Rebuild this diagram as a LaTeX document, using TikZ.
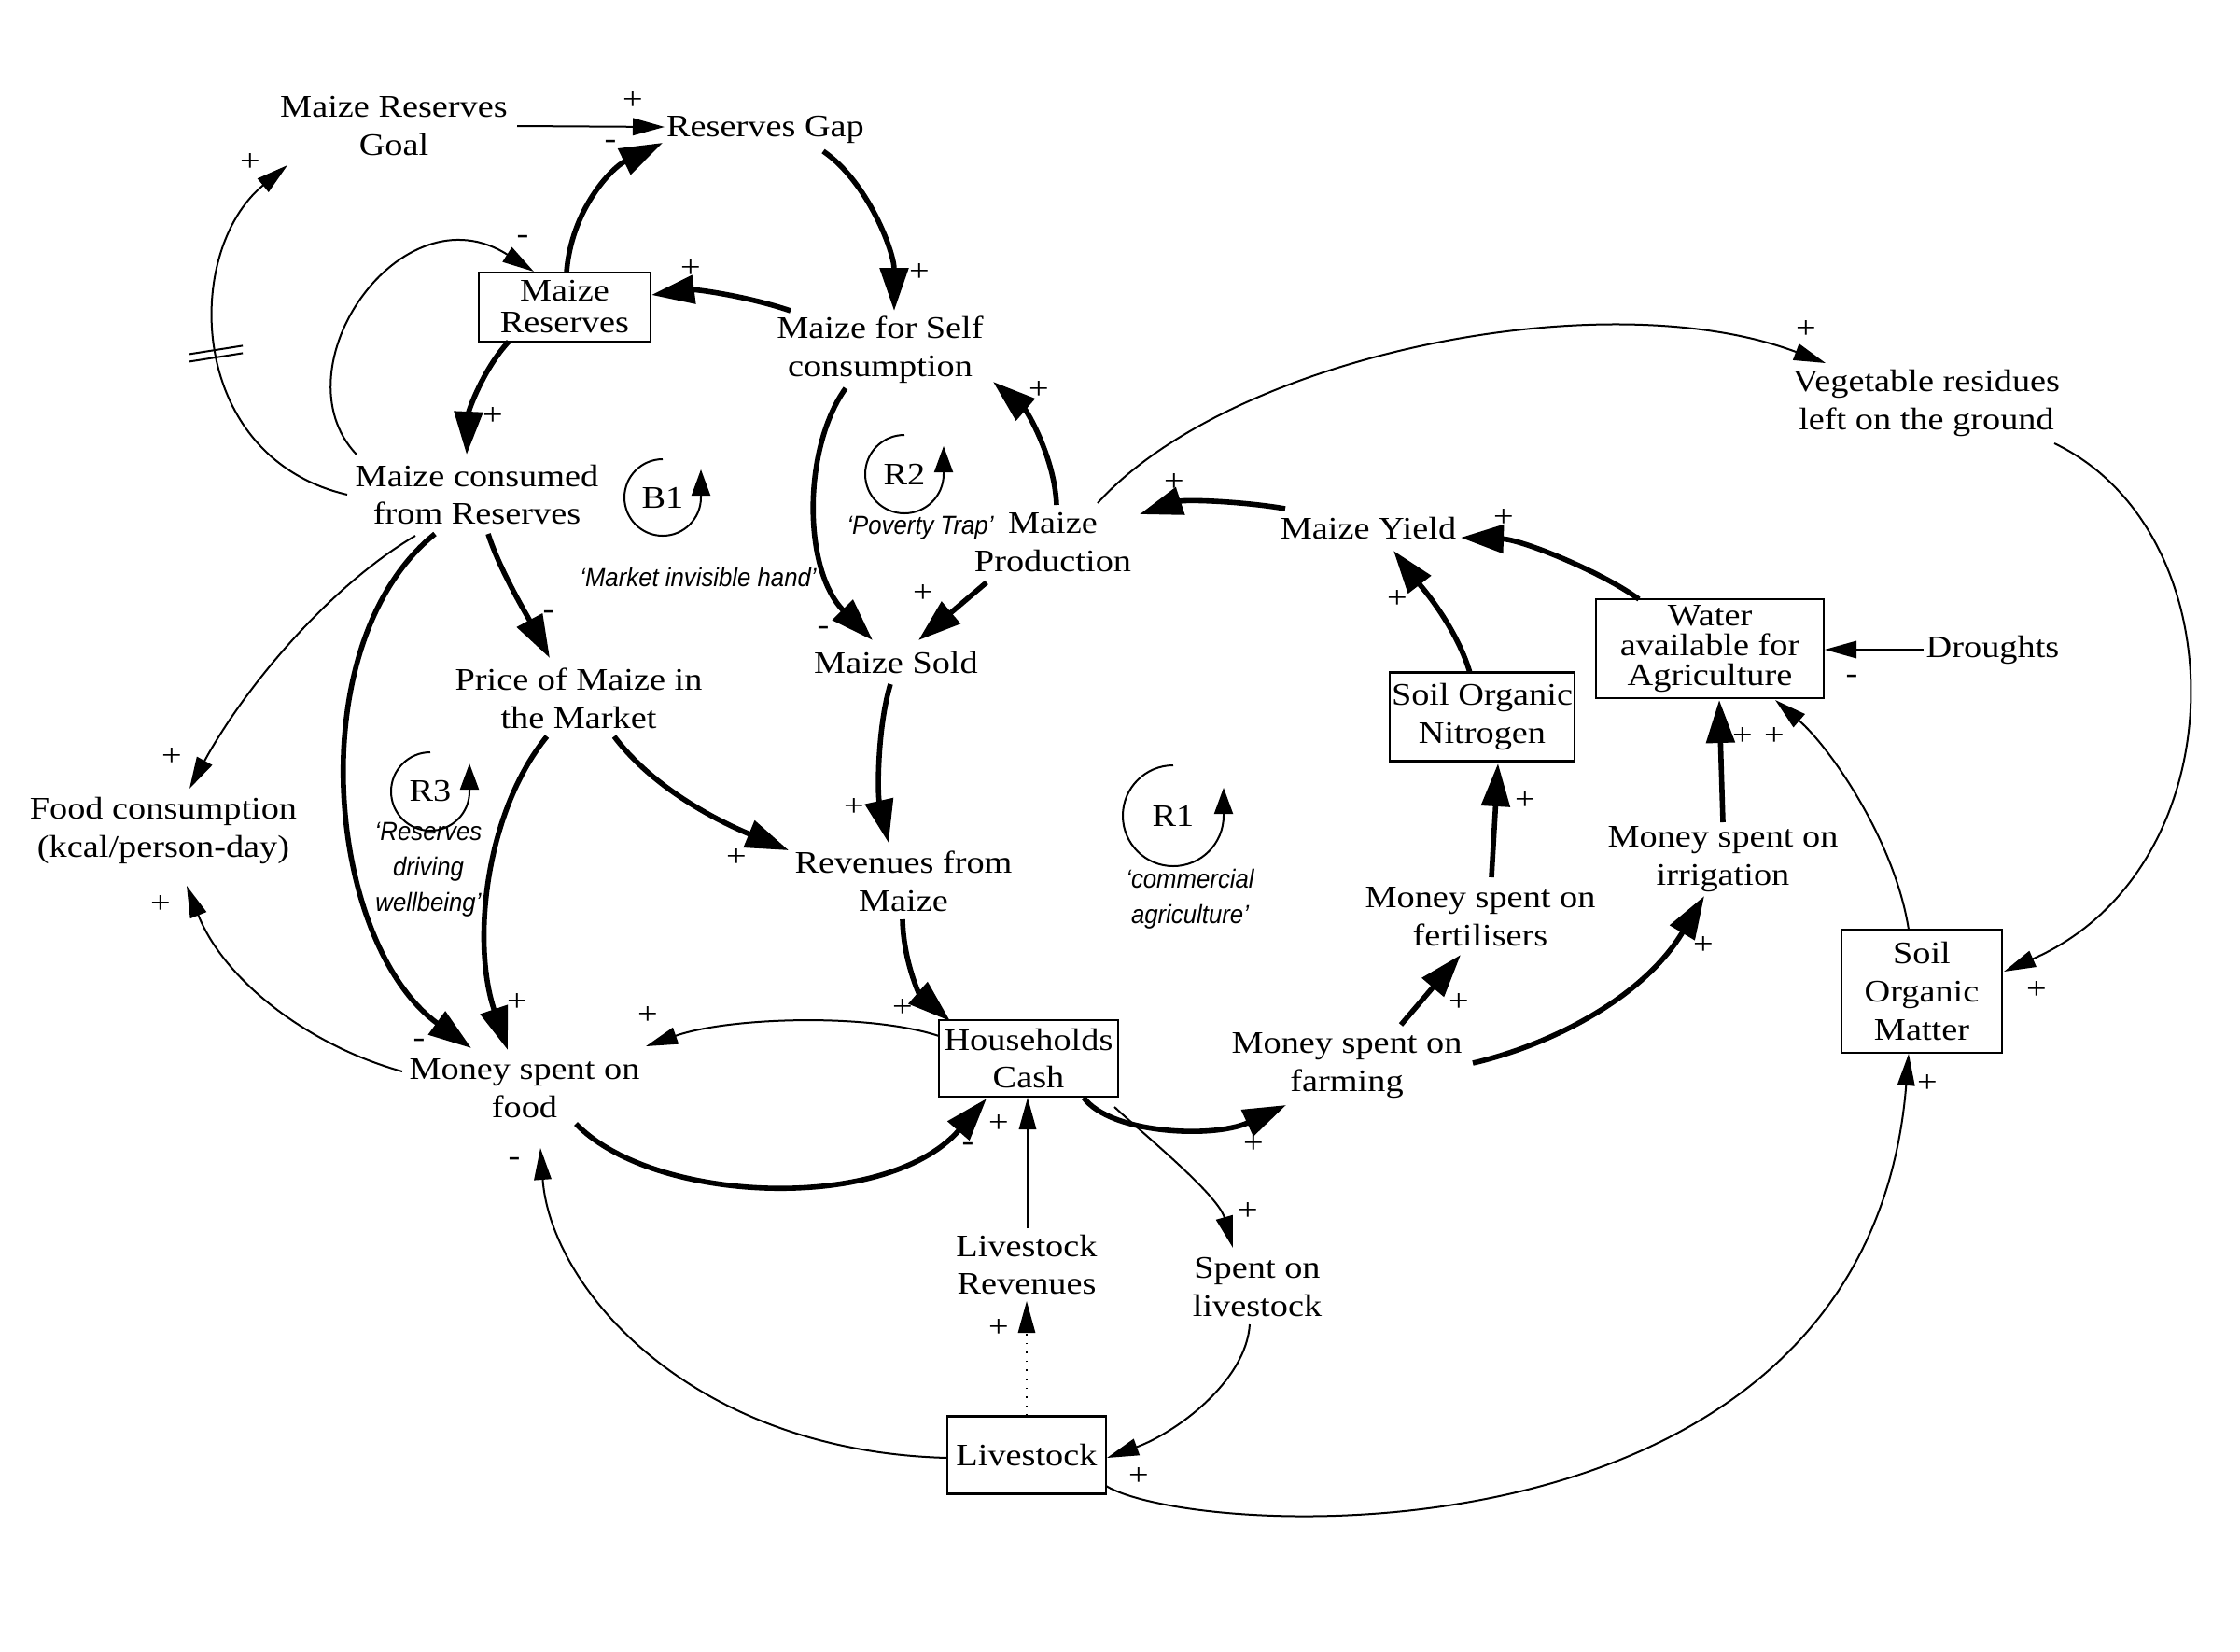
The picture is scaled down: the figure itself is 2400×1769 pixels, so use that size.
\documentclass[tikz,border=0pt]{standalone}
\usepackage{fontspec}
\setmainfont[FakeStretch=1.14]{Liberation Serif}
\newfontfamily\lblfont[FakeStretch=0.92]{Liberation Sans}
\usetikzlibrary{arrows.meta,calc}
\tikzset{
  txt/.style={align=center, inner sep=0pt, font=\fontsize{8.4pt}{10.2pt}\selectfont},
  stock/.style={draw, line width=0.65pt, align=center, inner sep=0pt, font=\fontsize{8.4pt}{10.2pt}\selectfont},
  pol/.style={inner sep=0pt, font=\fontsize{8.4pt}{10pt}\selectfont},
  thk/.style={line width=1.4pt, -{Triangle[length=11.5pt,width=7.5pt]}},
  thn/.style={line width=0.5pt, -{Triangle[length=8.5pt,width=4.6pt]}},
  loopc/.style={line width=0.5pt, -{Triangle[length=7pt,width=5pt]}},
  looplbl/.style={align=center, inner sep=0pt, font=\lblfont\itshape\fontsize{7pt}{9.5pt}\selectfont},
}
\begin{document}
\begin{tikzpicture}[x=0.25pt,y=-0.25pt]
\useasboundingbox (0,0) rectangle (2400,1769);

% ---------- variables ----------
\node[txt] (goal) at (422,135) {Maize Reserves\\Goal};
\node[txt] (gap) at (820,139) {Reserves Gap};
\node[txt] (self) at (943,375) {Maize for Self\\consumption};
\node[txt] (cons) at (511,530) {Maize consumed\\from Reserves};
\node[txt] (prod) at (1128,581) {Maize\\Production};
\node[txt] (sold) at (960,710) {Maize Sold};
\node[txt] (price) at (620,748) {Price of Maize in\\the Market};
\node[txt] (food) at (175,890) {Food consumption\\(kcal/person-day)};
\node[txt] (rev) at (968,944) {Revenues from\\Maize};
\node[txt] (yield) at (1466,566) {Maize Yield};
\node[txt] (veg) at (2064,432) {Vegetable residues\\left on the ground};
\node[txt] (drought) at (2135,696) {Droughts};
\node[txt] (irr) at (1846,921) {Money spent on\\irrigation};
\node[txt] (fert) at (1586,982) {Money spent on\\fertilisers};
\node[txt] (farm) at (1443,1142) {Money spent on\\farming};
\node[txt] (mfood) at (562,1166) {Money spent on\\food};
\node[txt] (lrev) at (1100,1355) {Livestock\\Revenues};
\node[txt] (spl) at (1347,1379) {Spent on\\livestock};

% ---------- stocks ----------
\node[stock, minimum width=46pt, minimum height=18.5pt, font=\fontsize{8.4pt}{8.5pt}\selectfont] (res) at (605,329) {Maize\\Reserves};
\node[stock, minimum width=61pt, minimum height=26.5pt, font=\fontsize{8.4pt}{8pt}\selectfont] (water) at (1832,695) {Water\\available for\\Agriculture};
\node[stock, minimum width=49.5pt, minimum height=23.75pt] (son) at (1588,768) {Soil Organic\\Nitrogen};
\node[stock, minimum width=43pt, minimum height=33pt] (som) at (2059,1062) {Soil\\Organic\\Matter};
\node[stock, minimum width=48pt, minimum height=20.5pt] (hh) at (1102,1134) {Households\\Cash};
\node[stock, minimum width=42.5pt, minimum height=20.75pt] (live) at (1100,1559) {Livestock};

% ---------- loop markers ----------
\node[txt] (b1) at (710,533) {B1};
\draw[loopc] ($(b1)+(0,-41)$) arc[start angle=-90, end angle=-360, radius=41] -- ++(0,-30);
\node[txt] (r2) at (969,508) {R2};
\draw[loopc] ($(r2)+(0,-42)$) arc[start angle=-90, end angle=-360, radius=42] -- ++(0,-30);
\node[txt] (r3) at (461,848) {R3};
\draw[loopc] ($(r3)+(0,-42)$) arc[start angle=-90, end angle=-360, radius=42] -- ++(0,-30);
\node[txt] (r1) at (1257,874) {R1};
\draw[loopc] ($(r1)+(0,-54)$) arc[start angle=-90, end angle=-360, radius=54] -- ++(0,-30);

\node[looplbl] (lmkt) at (748,618) {‘Market invisible hand’};
\node[looplbl] (lpov) at (986,566) {‘Poverty Trap’};
\node[looplbl] (lres) at (459,932) {‘Reserves\\driving\\wellbeing’};
\node[looplbl] (lcom) at (1275,963) {‘commercial\\agriculture’};

% ---------- connectors ----------
\draw[thn] ($(goal)+(132,0)$) -- ($(gap)+(-108,-3)$);
\draw[thk] ($(res)+(2,-37)$) .. controls (612,225) and (655,180) .. ($(gap)+(-110,14)$);
\draw[thk] ($(gap)+(62,23)$) .. controls (930,195) and (958,270) .. ($(self)+(15,-42)$);
\draw[thk] ($(self)+(-96,-42)$) .. controls (800,317) and (745,310) .. ($(res)+(93,-13)$);
\draw[thk] ($(res)+(-60,37)$) .. controls (518,395) and (502,440) .. ($(cons)+(-11,-43)$);
\draw[thn] ($(cons)+(-129,-43)$) .. controls (295,395) and (430,200) .. ($(res)+(-33,-38)$);
\draw[thn] ($(cons)+(-139,0)$) .. controls (200,490) and (195,270) .. ($(goal)+(-114,42)$) coordinate[pos=0.5] (dly);
\draw[line width=0.5pt] ($(dly)+(-30,6)$) -- ($(dly)+(27,-3)$);
\draw[line width=0.5pt] ($(dly)+(-30,14)$) -- ($(dly)+(27,5)$);
\draw[thk] ($(self)+(-37,41)$) .. controls (860,480) and (860,610) .. ($(sold)+(-25,-24)$);
\draw[thk] ($(prod)+(4,-40)$) .. controls (1130,490) and (1100,440) .. ($(self)+(121,34)$);
\draw[thk] ($(prod)+(-71,43)$) -- ($(sold)+(24,-24)$);
\draw[thk] ($(yield)+(-89,-21)$) .. controls (1330,537) and (1270,535) .. ($(prod)+(93,-30)$);
\draw[thn] ($(prod)+(48,-42)$) .. controls (1320,380) and (1720,300) .. ($(veg)+(-108,-43)$);
\draw[thn] ($(veg)+(137,43)$) .. controls (2400,570) and (2400,930) .. ($(som)+(88,-21)$);
\draw[thk] ($(water)+(-76,-53)$) .. controls (1715,612) and (1630,578) .. ($(yield)+(99,10)$);
\draw[thk] ($(son)+(-13,-47)$) .. controls (1560,670) and (1520,625) .. ($(yield)+(27,24)$);
\draw[thn] ($(drought)+(-74,0)$) -- ($(water)+(123,1)$);
\draw[thk] ($(irr)+(0,-40)$) -- ($(water)+(10,55)$);
\draw[thn] ($(som)+(-14,-66)$) .. controls (2030,900) and (1960,800) .. ($(water)+(70,55)$);
\draw[thk] ($(fert)+(12,-42)$) -- ($(son)+(17,50)$);
\draw[thk] ($(farm)+(58,-44)$) -- ($(fert)+(-21,41)$);
\draw[thk] ($(farm)+(135,-3)$) .. controls (1660,1120) and (1760,1070) .. ($(irr)+(-20,39)$);
\draw[thk] ($(hh)+(59,42)$) .. controls (1190,1215) and (1300,1220) .. ($(farm)+(-65,42)$);
\draw[thn] ($(hh)+(92,52)$) .. controls (1225,1215) and (1305,1280) .. ($(spl)+(-26,-42)$);
\draw[thn] ($(lrev)+(1,-39)$) -- ($(hh)+(-1,42)$);
\draw[thn, line width=0.4pt, dotted] ($(live)+(0,-42)$) -- ($(lrev)+(0,39)$);
\draw[thn] ($(spl)+(-8,40)$) .. controls (1335,1480) and (1260,1535) .. ($(live)+(86,3)$);
\draw[thn] ($(live)+(-85,3)$) .. controls (740,1555) and (590,1380) .. ($(mfood)+(17,64)$);
\draw[thn] ($(live)+(85,33)$) .. controls (1280,1650) and (2000,1690) .. ($(som)+(-14,67)$);
\draw[thn] ($(hh)+(-96,-24)$) .. controls (930,1085) and (780,1090) .. ($(mfood)+(130,-45)$);
\draw[thk] ($(mfood)+(55,38)$) .. controls (700,1290) and (950,1300) .. ($(hh)+(-45,43)$);
\draw[thn] ($(mfood)+(-131,-18)$) .. controls (330,1120) and (240,1050) .. ($(food)+(25,59)$);
\draw[thn] ($(cons)+(-66,44)$) .. controls (350,630) and (260,740) .. ($(food)+(28,-45)$);
\draw[thk] ($(cons)+(-45,42)$) .. controls (320,690) and (350,1010) .. ($(mfood)+(-57,-43)$);
\draw[thk] ($(cons)+(12,42)$) .. controls (535,610) and (565,660) .. ($(price)+(-31,-43)$);
\draw[thk] ($(price)+(-34,41)$) .. controls (520,870) and (505,1010) .. ($(mfood)+(-18,-41)$);
\draw[thk] ($(price)+(38,41)$) .. controls (700,845) and (770,880) .. ($(rev)+(-123,-33)$);
\draw[thk] ($(sold)+(-6,23)$) .. controls (940,780) and (940,850) .. ($(rev)+(-16,-41)$);
\draw[thk] ($(rev)+(-1,41)$) .. controls (968,1030) and (985,1065) .. ($(hh)+(-84,-40)$);

% ---------- polarities ----------
\node[pol] (p1) at (678,108) {+};
\node[pol] (p2) at (654,155) {-};
\node[pol] (p3) at (268,174) {+};
\node[pol] (p4) at (560,257) {-};
\node[pol] (p5) at (740,288) {+};
\node[pol] (p6) at (985,292) {+};
\node[pol] (p7) at (528,446) {+};
\node[pol] (p8) at (588,659) {-};
\node[pol] (p9) at (882,676) {-};
\node[pol] (p10) at (989,636) {+};
\node[pol] (p11) at (184,811) {+};
\node[pol] (p12) at (172,969) {+};
\node[pol] (p13) at (789,919) {+};
\node[pol] (p14) at (915,865) {+};
\node[pol] (p15) at (554,1074) {+};
\node[pol] (p16) at (449,1118) {-};
\node[pol] (p17) at (694,1088) {+};
\node[pol] (p18) at (967,1080) {+};
\node[pol] (p19) at (1037,1229) {-};
\node[pol] (p20) at (1070,1204) {+};
\node[pol] (p21) at (551,1245) {-};
\node[pol] (p22) at (1113,418) {+};
\node[pol] (p23) at (1258,517) {+};
\node[pol] (p24) at (1497,642) {+};
\node[pol] (p25) at (1634,858) {+};
\node[pol] (p26) at (1611,555) {+};
\node[pol] (p27) at (1935,353) {+};
\node[pol] (p28) at (1984,728) {-};
\node[pol] (p29) at (1867,789) {+};
\node[pol] (p30) at (1901,789) {+};
\node[pol] (p31) at (2182,1061) {+};
\node[pol] (p32) at (1825,1013) {+};
\node[pol] (p33) at (1563,1074) {+};
\node[pol] (p34) at (2065,1161) {+};
\node[pol] (p35) at (1343,1226) {+};
\node[pol] (p36) at (1337,1298) {+};
\node[pol] (p37) at (1070,1423) {+};
\node[pol] (p38) at (1220,1582) {+};
\end{tikzpicture}
\end{document}
